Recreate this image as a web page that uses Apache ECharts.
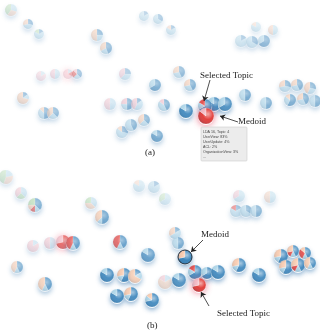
<!DOCTYPE html>
<html><head><meta charset="utf-8">
<script src="https://cdn.jsdelivr.net/npm/echarts@6/dist/echarts.min.js"></script>
<style>html,body{margin:0;padding:0;background:#fff}#c{width:320px;height:336px}</style>
</head><body><div id="c"></div>
<script>
// slice colours: blue, light blue, red, peach, green, pink
const sliceColors = ['#2a7bb6', '#a3d0e6', '#e0312e', '#f7c4a5', '#a6d49a', '#f2b3bf'];
// panel (a) glyphs: x, y, radius, opacity, then slice weights (blue, light, red, peach, green, pink)
const glyphsA = [
  [11,10,6,0.35, 0,3,0,3,4,0],
  [28,24,5,0.4, 2,3,0,2,0,0],
  [39,34,5,0.35, 1,4,0,0,1,0],
  [97,35,6,0.45, 2,2,0,4,0,0],
  [106,48,6,0.45, 4,2,0,3,0,0],
  [41,76,5,0.3, 0,1,0,0,0,5],
  [55,74,5,0.35, 0,3,0,0,0,3],
  [68,74,5,0.35, 0,1,1,0,0,4],
  [77,74,5,0.4, 3,2,2,0,0,1],
  [125,74,6,0.35, 2,3,0,0,0,3],
  [144,16,5,0.3, 1,5,0,0,0,0],
  [158,19,5,0.35, 2,4,0,0,0,0],
  [171,30,5,0.35, 1,4,0,1,0,0],
  [256,27,5,0.3, 0,5,0,1,0,0],
  [273,30,5,0.35, 0,3,0,3,0,0],
  [241,41,6,0.35, 1,5,0,0,0,0],
  [252,42,6,0.4, 2,4,0,0,0,0],
  [264,41,6,0.45, 4,2,0,0,0,0],
  [179,72,6,0.45, 3,2,0,2,0,0],
  [23,98,6,0.45, 1,1,0,5,0,0],
  [44,113,6,0.45, 4,3,0,1,0,0],
  [53,113,6,0.45, 3,2,0,3,0,0],
  [110,104,6,0.4, 0,3,0,0,0,3],
  [127,104,6,0.5, 4,2,0,0,0,2],
  [137,104,6,0.45, 1,3,0,0,0,3],
  [122,132,6,0.45, 2,4,0,1,0,0],
  [131,125,6,0.5, 3,4,0,0,0,0],
  [144,120,6,0.5, 3,2,0,3,0,0],
  [155,85,6,0.55, 4,2,0,0,0,0],
  [157,136,6,0.6, 5,1,0,0,0,0],
  [164,105,6,0.55, 3,3,0,0,0,1],
  [190,85,6,0.55, 3,2,0,2,0,0],
  [245,95,6,0.6, 3,3,0,0,0,0],
  [266,103,6,0.55, 3,3,0,0,0,0],
  [285,86,6,0.5, 2,3,0,2,0,0],
  [297,85,6,0.5, 3,2,0,2,0,0],
  [310,88,6,0.5, 2,2,0,3,0,0],
  [290,100,6,0.55, 4,2,0,1,0,0],
  [303,99,6,0.5, 3,2,0,2,0,0],
  [315,101,6,0.5, 3,3,0,0,0,0],
  [186,111,7,0.9, 5,1,0,0,0,0],
  [214,104,7,0.9, 5,1,0,0,0,0],
  [205,106,7,0.9, 4,1,1,0,0,0],
  [225,104,7,0.85, 4,2,0,0,0,0],
  [206,116,8,1, 0,0,6,0,0,1]
];
// panel (b) glyphs
const glyphsB = [
  [6,177,7,0.35, 0,2,0,3,4,0],
  [21,193,6,0.4, 0,3,0,0,2,3],
  [35,205,7,0.55, 3,1,1,1,2,0],
  [91,203,6,0.45, 0,3,0,3,2,0],
  [102,217,7,0.65, 4,1,0,3,0,0],
  [33,246,6,0.4, 0,1,0,0,0,5],
  [50,243,6,0.45, 0,3,0,0,0,3],
  [63,242,7,0.7, 0,0,5,0,0,2],
  [73,243,7,0.7, 3,1,3,0,0,0],
  [120,242,7,0.7, 3,1,3,0,0,0],
  [148,255,7,0.7, 5,1,0,0,0,0],
  [139,186,6,0.3, 0,5,0,1,0,0],
  [154,187,6,0.35, 1,5,0,0,0,0],
  [165,199,6,0.3, 0,4,0,0,2,0],
  [239,196,6,0.35, 0,4,0,0,0,2],
  [270,197,6,0.35, 0,3,0,3,0,0],
  [236,211,6,0.45, 1,4,1,0,0,0],
  [246,211,6,0.5, 2,4,0,0,0,0],
  [256,211,6,0.5, 3,3,0,0,0,0],
  [175,233,6,0.55, 1,3,0,2,0,0],
  [178,243,6,0.6, 3,3,0,0,0,0],
  [17,267,6,0.55, 3,1,0,3,0,0],
  [45,284,7,0.7, 3,1,0,3,0,0],
  [107,275,7,0.9, 5,1,0,0,0,0],
  [124,275,7,0.9, 4,1,0,2,0,0],
  [135,276,7,0.8, 1,1,0,4,0,0],
  [117,296,7,0.9, 5,1,0,0,0,0],
  [131,294,7,0.9, 4,1,0,2,0,0],
  [152,300,7,0.9, 5,1,0,1,0,0],
  [165,282,7,0.45, 0,1,0,4,0,1],
  [179,280,7,0.85, 5,1,0,0,0,0],
  [195,272,7,0.9, 4,1,1,0,0,0],
  [207,273,6,0.9, 4,2,0,0,0,0],
  [218,272,7,0.9, 5,1,0,0,0,0],
  [239,265,7,0.9, 4,1,0,2,0,0],
  [259,275,7,0.9, 5,1,0,0,0,0],
  [281,256,7,0.9, 4,1,0,2,0,0],
  [293,251,6,0.85, 3,1,1,2,0,0],
  [305,253,6,0.85, 3,1,2,1,0,0],
  [286,267,7,0.9, 4,1,0,2,0,0],
  [298,265,7,0.9, 3,1,1,2,0,0],
  [310,263,6,0.85, 3,1,0,3,0,0],
  [185,257,7,1, 5,0,0,2,0,0],
  [199,285,7,1, 0,0,5,0,0,2]
];
// annotation arrows: from (x,y) to (x,y)
const arrowsFrom = [[210,80],[238,122],[203,240],[209,306]];
const arrowsTo   = [[204,101],[220,116],[191,252],[201,292]];
const tooltipLines = ['LDA 16, Topic: 4','UserView: 83%','UserUpdate: 4%','ACL: 2%','OrganizationView: 3%','...'];

function renderGlyph(params, api) {
  const c = api.coord([api.value(0), api.value(1)]);
  const r = api.value(2), a = api.value(3);
  const w = [4,5,6,7,8,9].map(i => api.value(i));
  const tot = w.reduce((s,v)=>s+v,0) || 1;
  const redDom = w[2] > w[0];
  const children = [{
    type:'circle', shape:{cx:c[0], cy:c[1]+1, r:r},
    style:{fill:'#fff', shadowBlur:redDom ? 7 : 5, shadowOffsetY:redDom ? 0 : 2,
      shadowColor: redDom ? 'rgba(230,60,90,0.7)' : 'rgba(40,110,170,0.6)', opacity:a}
  }];
  let ang = -Math.PI/2;
  w.forEach((v,i) => {
    if (v <= 0) return;
    const e = ang + v/tot*Math.PI*2;
    children.push({type:'sector', shape:{cx:c[0], cy:c[1], r:r, r0:0, startAngle:ang, endAngle:e},
      style:{fill:sliceColors[i], stroke:'rgba(255,255,255,0.6)', lineWidth:0.4, opacity:a}});
    ang = e;
  });
  children.push({type:'circle', shape:{cx:c[0], cy:c[1], r:r},
    style:{opacity:a, fill:new echarts.graphic.RadialGradient(0.62,0.38,0.75,[
      {offset:0, color:'rgba(255,255,255,0.6)'},
      {offset:0.45, color:'rgba(255,255,255,0.08)'},
      {offset:1, color:'rgba(10,50,90,0.3)'}]),
      stroke: (a === 1 && !redDom) ? '#1a2a3a' : null, lineWidth: 1}});
  return {type:'group', children};
}

const chart = echarts.init(document.getElementById('c'), null, {renderer:'canvas'});
const textEls = [
  {type:'text', left:200, top:71, style:{text:'Selected Topic', font:'9px "Liberation Serif"', fill:'#222'}},
  {type:'text', left:238, top:117, style:{text:'Medoid', font:'9px "Liberation Serif"', fill:'#222'}},
  {type:'text', left:145, top:148, style:{text:'(a)', font:'9px "Liberation Serif"', fill:'#222'}},
  {type:'text', left:201, top:230, style:{text:'Medoid', font:'9px "Liberation Serif"', fill:'#222'}},
  {type:'text', left:217, top:309, style:{text:'Selected Topic', font:'9px "Liberation Serif"', fill:'#222'}},
  {type:'text', left:147, top:321, style:{text:'(b)', font:'9px "Liberation Serif"', fill:'#222'}},
  {type:'rect', shape:{x:201, y:127, width:46, height:34, r:1}, style:{fill:'#ececec', stroke:'#cfcfcf', lineWidth:0.6}, z:50},
  {type:'text', left:203, top:129, z:51, style:{text:tooltipLines.join('\n'), font:'3.6px "Liberation Sans"', lineHeight:5, fill:'#444'}}
];

chart.setOption({
  animation:false,
  grid:{left:0, right:0, top:0, bottom:0},
  xAxis:{type:'value', min:0, max:320, show:false},
  yAxis:{type:'value', min:0, max:336, inverse:true, show:false},
  graphic:textEls,
  series:[
    {type:'custom', renderItem:renderGlyph, data:glyphsA, z:2},
    {type:'custom', renderItem:renderGlyph, data:glyphsB, z:2},
    {type:'lines', coordinateSystem:'cartesian2d', z:10, symbol:['none','arrow'], symbolSize:[1,5],
     lineStyle:{color:'#222', width:0.8, opacity:1},
     data:arrowsFrom.map((f,i)=>({coords:[f, arrowsTo[i]]}))}
  ]
});
</script></body></html>
